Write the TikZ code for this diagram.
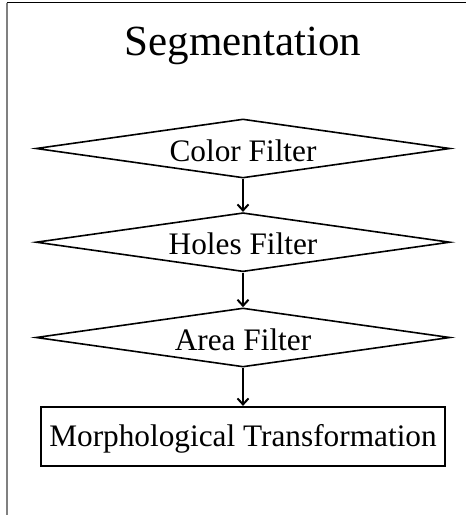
\documentclass[tikz,border=0pt]{standalone}
\usepackage{fontspec}
\setmainfont{Liberation Serif}
\usetikzlibrary{shapes.geometric,arrows.meta}
\tikzset{
  filterbox/.style={diamond, draw, line width=1.6pt, aspect=7, inner sep=0pt,
    minimum width=414pt, minimum height=59pt,
    font=\fontsize{31.3pt}{36pt}\selectfont, text height=25pt, text depth=0pt},
  stagebox/.style={rectangle, draw, line width=1.6pt, inner sep=0pt,
    minimum width=404pt, minimum height=59pt,
    font=\fontsize{31.3pt}{36pt}\selectfont, text height=21pt, text depth=0pt},
  flow/.style={line width=2pt, -{Straight Barb[length=6pt,width=11pt,line width=2pt]}},
}
\begin{document}
\begin{tikzpicture}[x=1pt,y=-1pt]
  \useasboundingbox (0,0) rectangle (473,515);
  % frame: top and left edges only
  \draw[line width=1.6pt] (6.5,2.5) -- (466,2.5);
  \draw[line width=2pt, gray] (6.5,2.5) -- (6.5,515);
  % title
  \node[anchor=base, inner sep=0pt, font=\fontsize{43pt}{50pt}\selectfont] (title) at (243,55) {Segmentation};
  % stages
  \node[filterbox] (color) at (243,148.5) {Color Filter};
  \node[filterbox] (holes) at (243,242.2) {Holes Filter};
  \node[filterbox] (area)  at (243,337.5) {Area Filter};
  \node[stagebox]  (morph) at (243,436.2) {Morphological Transformation};
  % connectors
  \draw[flow] (color.south) -- (holes.north);
  \draw[flow] (holes.south) -- (area.north);
  \draw[flow] (area.south) -- (morph.north);
\end{tikzpicture}
\end{document}
